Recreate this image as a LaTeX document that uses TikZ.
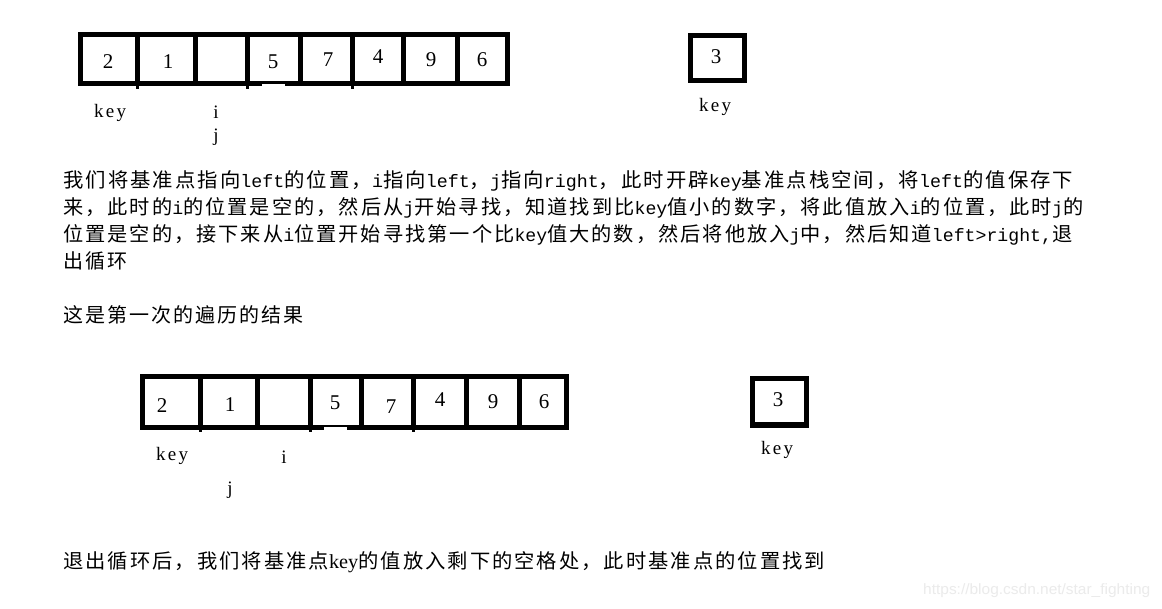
\documentclass[tikz,border=0pt]{standalone}
\usepackage{fontspec}
\setmainfont{Liberation Serif}
\newfontfamily\cjkfam[LetterSpace=10]{Noto Sans CJK SC}
\newfontfamily\monofam{Liberation Mono}
\newfontfamily\wmfam{Liberation Sans}
\newfontfamily\lblfam[LetterSpace=12]{Liberation Serif}
\newcommand{\tx}{\fontsize{20pt}{24pt}\cjkfam}
\newcommand{\mm}[1]{{\fontsize{18pt}{22pt}\monofam #1}}
\newcommand{\serifword}[1]{{\fontsize{20pt}{24pt}\rmfamily #1}}
\newcommand{\fitw}[2]{\resizebox{#1}{\height}{#2}}
\definecolor{wmgray}{HTML}{EBEBEB}
\tikzset{
  frame/.style={line width=5pt, line join=miter},
  divider/.style={line width=5pt},
  digit/.style={inner sep=0pt, font=\fontsize{21pt}{24pt}\selectfont},
  lbl/.style={inner sep=0pt, font=\fontsize{19pt}{22pt}\lblfam},
  para/.style={inner sep=0pt, anchor=west},
}
\begin{document}
\begin{tikzpicture}[x=1pt,y=-1pt]
\useasboundingbox[fill=white] (0,0) rectangle (1162,609);

% ---------- first array ----------
\draw[frame] (80,35) rectangle (507,84);
\foreach \x in {137,195,247,300,352,403,457}
  \draw[divider] (\x,35) -- (\x,84);
\foreach \x in {137,247,352}
  \fill (\x-1.5,84) rectangle (\x+1.5,89);
\fill[white] (262,84.3) rectangle (285,87);
\node[digit] (a1) at (108,62) {2};
\node[digit] (a2) at (168,62) {1};
\node[digit] (a4) at (273,62) {5};
\node[digit] (a5) at (328,60) {7};
\node[digit] (a6) at (378,57) {4};
\node[digit] (a7) at (431,60) {9};
\node[digit] (a8) at (482,60) {6};
\node[lbl] (keyA) at (110,113) {key};
\node[lbl] (iA) at (216,112) {i};
\node[lbl] (jA) at (216,137) {j};

% key box 1
\draw[frame] (690,36) rectangle (744,81);
\node[digit] (k1) at (716,57) {3};
\node[lbl] (k1lbl) at (715,107) {key};

% ---------- paragraph ----------
\node[para] (p1) at (63,181) {\fitw{1010pt}{\tx 我们将基准点指向\mm{left}的位置，\mm{i}指向\mm{left}，\mm{j}指向\mm{right}，此时开辟\mm{key}基准点栈空间，将\mm{left}的值保存下}};
\node[para] (p2) at (63,208) {\fitw{1020pt}{\tx 来，此时的\mm{i}的位置是空的，然后从\mm{j}开始寻找，知道找到比\mm{key}值小的数字，将此值放入\mm{i}的位置，此时\mm{j}的}};
\node[para] (p3) at (63,235) {\fitw{1009pt}{\tx 位置是空的，接下来从\mm{i}位置开始寻找第一个比\mm{key}值大的数，然后将他放入\mm{j}中，然后知道\mm{left>right,}退}};
\node[para] (p4) at (63,261) {\tx 出循环};
\node[para] (p5) at (63,315) {\tx 这是第一次的遍历的结果};

% ---------- second array ----------
\draw[frame] (142,377) rectangle (566,427);
\foreach \x in {200,257,310,361,413,466,519}
  \draw[divider] (\x,377) -- (\x,427);
\foreach \x in {200,310,413}
  \fill (\x-1.5,427) rectangle (\x+1.5,432);
\fill[white] (324,427.3) rectangle (347,430);
\node[digit] (b1) at (162,406) {2};
\node[digit] (b2) at (230,405) {1};
\node[digit] (b4) at (335,403) {5};
\node[digit] (b5) at (391,407) {7};
\node[digit] (b6) at (440,400) {4};
\node[digit] (b7) at (493,402) {9};
\node[digit] (b8) at (544,402) {6};
\node[lbl] (keyB) at (172,456) {key};
\node[lbl] (iB) at (284,457) {i};
\node[lbl] (jB) at (230,490) {j};

% key box 2
\draw[frame] (752,379) rectangle (806,425);
\node[digit] (k2) at (778,400) {3};
\node[lbl] (k2lbl) at (777,450) {key};

% ---------- conclusion ----------
\node[para] (p6) at (63,562) {\fitw{762pt}{\tx 退出循环后，我们将基准点\serifword{key}的值放入剩下的空格处，此时基准点的位置找到}};

% watermark
\node[para, text=wmgray] (wm) at (923,591) {\fitw{227pt}{\fontsize{15pt}{18pt}\wmfam https://blog.csdn.net/star\_fighting}};
\end{tikzpicture}
\end{document}
